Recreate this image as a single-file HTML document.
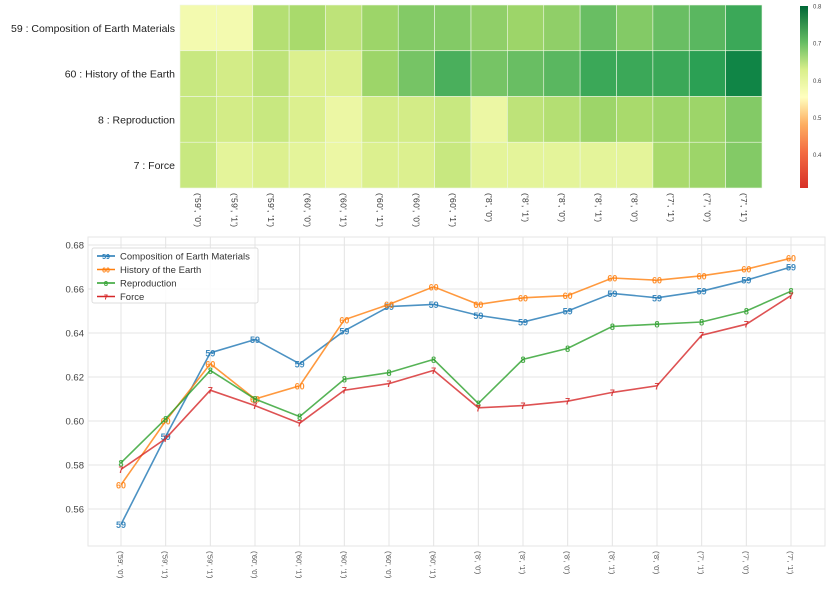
<!DOCTYPE html>
<html><head><meta charset="utf-8"><style>
body{margin:0;background:#fff;width:830px;height:586px;overflow:hidden;font-family:"Liberation Sans",sans-serif}
</style></head><body>
<svg id="c" width="830" height="586" xmlns="http://www.w3.org/2000/svg">
<defs><linearGradient id="cb" x1="0" y1="1" x2="0" y2="0">
<stop offset="0" stop-color="#d73027"/><stop offset="0.2" stop-color="#f46d43"/><stop offset="0.35" stop-color="#fdae61"/><stop offset="0.5" stop-color="#ffffbf"/><stop offset="0.65" stop-color="#d9ef8b"/><stop offset="0.8" stop-color="#66bd63"/><stop offset="1" stop-color="#006837"/></linearGradient></defs>
<g id="hm"></g>
<g id="lc"></g>
</svg>
<script>
const cats=["('59', '0')","('59', '1')","('59', '1')","('60', '0')","('60', '1')","('60', '1')","('60', '0')","('60', '1')","('8', '0')","('8', '1')","('8', '0')","('8', '1')","('8', '0')","('7', '1')","('7', '0')","('7', '1')"];
const rowLabels=["59 : Composition of Earth Materials","60 : History of the Earth","8 : Reproduction","7 : Force"];
const hm59=[.57,.57,.64,.65,.63,.66,.68,.68,.67,.66,.67,.70,.68,.70,.71,.73];
const hm60=[.62,.61,.63,.60,.60,.66,.69,.72,.69,.70,.71,.73,.73,.73,.74,.77];
const hm8=[.62,.61,.62,.60,.58,.61,.61,.62,.58,.63,.64,.66,.65,.66,.66,.68];
const hm7=[.62,.59,.60,.59,.58,.60,.60,.62,.59,.59,.59,.59,.59,.65,.66,.68];
const cbTicks=[0.4,0.5,0.6,0.7,0.8];
const seriesNames=["Composition of Earth Materials","History of the Earth","Reproduction","Force"];
const seriesMarks=["59","60","8","7"];
const sComp=[0.553,0.593,0.631,0.637,0.626,0.641,0.652,0.653,0.648,0.645,0.650,0.658,0.656,0.659,0.664,0.670];
const sHist=[0.571,0.600,0.626,0.610,0.616,0.646,0.653,0.661,0.653,0.656,0.657,0.665,0.664,0.666,0.669,0.674];
const sRepr=[0.581,0.601,0.623,0.610,0.602,0.619,0.622,0.628,0.608,0.628,0.633,0.643,0.644,0.645,0.650,0.659];
const sForce=[0.578,0.592,0.614,0.607,0.599,0.614,0.617,0.623,0.606,0.607,0.609,0.613,0.616,0.639,0.644,0.657];
const yTicks=[0.56,0.58,0.60,0.62,0.64,0.66,0.68];
const colors=["#1f77b4","#ff7f0e","#2ca02c","#d62728"];
const NS="http://www.w3.org/2000/svg";
function mk(p,t,a,txt){const e=document.createElementNS(NS,t);for(const k in a)e.setAttribute(k,a[k]);if(txt!=null)e.textContent=txt;p.appendChild(e);return e;}
const stops=[[0,[215,48,39]],[0.1,[244,109,67]],[0.2,[253,174,97]],[0.3,[254,224,139]],[0.5,[255,255,191]],[0.6,[217,239,139]],[0.7,[166,217,106]],[0.8,[102,189,99]],[0.9,[26,152,80]],[1,[0,104,55]]];
function cmap(v){let t=(v-0.31)/(0.8-0.31);t=Math.max(0,Math.min(1,t));for(let i=1;i<stops.length;i++){if(t<=stops[i][0]){const a=stops[i-1],b=stops[i];const f=(t-a[0])/(b[0]-a[0]);const c=a[1].map((x,j)=>Math.round(x+(b[1][j]-x)*f));return `rgb(${c})`;}}return "rgb(0,104,55)";}
const hm=document.getElementById('hm');
const hx0=180,hx1=762,hy0=5,hy1=188;
const cw=(hx1-hx0)/cats.length,rh=(hy1-hy0)/4;
const hmRows=[hm59,hm60,hm8,hm7];
hmRows.forEach((row,r)=>{
  row.forEach((v,c)=>{
    const el=mk(hm,'rect',{x:hx0+c*cw,y:hy0+r*rh,width:cw,height:rh,fill:cmap(v),stroke:'#eef7e6','stroke-width':0.6});
    
    
  });
  const t=mk(hm,'text',{x:hx0-5,y:hy0+r*rh+rh/2+4,'text-anchor':'end','font-size':10.5,fill:'#222'},rowLabels[r]);
  
  
});
cats.forEach((c,i)=>{
  const t=mk(hm,'text',{transform:`translate(${hx0+i*cw+cw/2-3},193) rotate(90)`,'font-size':8.5,fill:'#333','letter-spacing':'0.3'},c);
  
  
});
const cbx=800,cby0=6,cby1=188;
const cb=mk(hm,'rect',{x:cbx,y:cby0,width:8,height:cby1-cby0,fill:'url(#cb)'});


cbTicks.forEach(v=>{
  const y=cby1-(v-0.31)/(0.8-0.31)*(cby1-cby0);
  const t=mk(hm,'text',{x:813,y:y+2.5,'font-size':6,fill:'#444'},v.toFixed(1));
  
  
});
const lc=document.getElementById('lc');
const L=88,R=825,T=237,B=546;
const xs=i=>121+i*(791-121)/(cats.length-1);
const ys=v=>245+(0.68-v)/0.02*44;
mk(lc,'rect',{x:L,y:T,width:R-L,height:B-T,fill:'#fff',stroke:'#e6e6e6'});
yTicks.forEach(v=>{
  mk(lc,'line',{x1:L,x2:R,y1:ys(v),y2:ys(v),stroke:'#e4e4e4','stroke-width':1});
  const t=mk(lc,'text',{x:L-4,y:ys(v)+3.5,'text-anchor':'end','font-size':9.5,fill:'#444'},v.toFixed(2));
  
  
});
cats.forEach((c,i)=>{
  mk(lc,'line',{x1:xs(i),x2:xs(i),y1:T,y2:B,stroke:'#e4e4e4','stroke-width':1});
  const t=mk(lc,'text',{transform:`translate(${xs(i)-3},551) rotate(90)`,'font-size':7.5,fill:'#555'},c);
  
  
});
[sComp,sHist,sRepr,sForce].forEach((s,k)=>{
  const g=mk(lc,'g',{});
  
  
  mk(g,'polyline',{points:s.map((v,i)=>xs(i)+','+ys(v)).join(' '),fill:'none',stroke:colors[k],'stroke-width':1.6,opacity:0.8});
  s.forEach((v,i)=>{
    const m=mk(g,'text',{x:xs(i),y:ys(v)+3.5,'text-anchor':'middle','font-size':9,'font-weight':'bold',fill:colors[k],opacity:0.85},seriesMarks[k]);
    
    
  });
});
const lg=mk(lc,'g',{});


mk(lg,'rect',{x:92,y:248,width:166,height:55,fill:'#fff','fill-opacity':0.85,stroke:'#ddd',rx:2});
seriesNames.forEach((n,k)=>{
  const y=256+k*13.5;
  mk(lg,'line',{x1:97,x2:115,y1:y,y2:y,stroke:colors[k],'stroke-width':1.6});
  mk(lg,'text',{x:106,y:y+3,'text-anchor':'middle','font-size':7,'font-weight':'bold',fill:colors[k]},seriesMarks[k]);
  const t=mk(lg,'text',{x:120,y:y+3.5,'font-size':9.5,fill:'#333'},n);
  
  
});
</script>
</body></html>
